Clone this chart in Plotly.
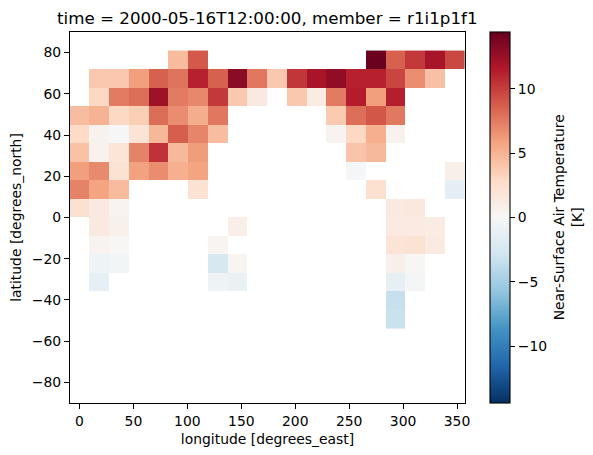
import plotly.graph_objects as go

N = None
lon = [0, 18.3, 36.6, 54.9, 73.2, 91.5, 109.8, 128.1, 146.4, 164.7,
       183, 201.3, 219.6, 237.9, 256.2, 274.5, 292.8, 311.1, 329.4, 347.7]
lat = [76.5, 67.5, 58.5, 49.5, 40.5, 31.5, 22.5, 13.5, 4.5, -4.5,
       -13.5, -22.5, -31.5, -40.5, -49.5]

r_765 = [N, N, N, N, N, 4.6, 8.9, N, N, N, N, N, N, N, N, 14.3, 8.6, 10.2, 11.9, 9.6]
r_675 = [N, 3.9, 3.9, 6, 8.6, 7.8, 11.2, 8.6, 13.1, 7.7, 3.9, 10.3, 11.9, 12.8, 11.2, 11.2, 9.7, 6.7, 4.3, N]
r_585 = [N, 3, 7.5, 8, 12.3, 7.5, 7, 10.2, 3.9, 1.4, N, 3.9, 1.2, 7.5, 11.4, 6, 11.3, N, N, N]
r_495 = [4.5, 5, 3, 3.6, 8.1, 6.8, 5.3, 7.7, N, N, N, N, N, 3.8, 8, 9, 7.6, N, N, N]
r_405 = [2.9, 0.5, -0.1, 2, 4.8, 8.7, 7.1, 4.5, N, N, N, N, N, 0.4, 3, 5.2, 0.6, N, N, N]
r_315 = [4.2, 0.6, 1.9, 7.2, 10.5, 4.7, 6.1, N, N, N, N, N, N, N, 4.1, 4.7, N, N, N, N]
r_225 = [6, 6.9, 2.1, 5.9, 6.8, 5.2, 5.8, N, N, N, N, N, N, N, -0.2, N, N, N, N, 0.8]
r_135 = [7.2, 5.8, 4.6, N, N, N, 2.2, N, N, N, N, N, N, N, N, 2.3, N, N, N, -1.4]
r_045 = [2.3, 1.4, 0.4, N, N, N, N, N, N, N, N, N, N, N, N, N, 1.4, 1.5, N, N]
r_m045 = [N, 1.4, 0.7, N, N, N, N, N, 0.9, N, N, N, N, N, N, N, 1.3, 1.3, 1.2, N]
r_m135 = [N, 0.4, 0.15, N, N, N, N, 0.35, N, N, N, N, N, N, N, N, 2, 2.1, 1.3, N]
r_m225 = [N, -0.7, -0.35, N, N, N, N, -2.4, 0.3, N, N, N, N, N, N, N, 0.8, 0.15, N, N]
r_m315 = [N, -1.3, N, N, N, N, N, -0.7, -1, N, N, N, N, N, N, N, -1.3, -0.3, N, N]
r_m405 = [N, N, N, N, N, N, N, N, N, N, N, N, N, N, N, N, -3.3, N, N, N]
r_m495 = [N, N, N, N, N, N, N, N, N, N, N, N, N, N, N, N, -3.2, N, N, N]

z = [r_765, r_675, r_585, r_495, r_405, r_315, r_225, r_135, r_045,
     r_m045, r_m135, r_m225, r_m315, r_m405, r_m495]

x_ticks = [0, 50, 100, 150, 200, 250, 300, 350]
y_ticks = [-80, -60, -40, -20, 0, 20, 40, 60, 80]
cbar_ticks = [-10, -5, 0, 5, 10]
title = "time = 2000-05-16T12:00:00, member = r1i1p1f1"
x_label = "longitude [degrees_east]"
y_label = "latitude [degrees_north]"
cbar_label = "Near-Surface Air Temperature<br>[K]"
colors = ["#053061", "#2166ac", "#4393c3", "#92c5de", "#d1e5f0", "#f7f7f7",
          "#fddbc7", "#f4a582", "#d6604d", "#b2182b", "#67001f"]

# The page body has an 8px margin, so the figure is laid out 8px up and left.
W, H = 585, 447
L, R, T, B = 61.5, 457, 23.5, 395
FONT = "DejaVu Sans"
cs = [[i / (len(colors) - 1), c] for i, c in enumerate(colors)]

fig = go.Figure(go.Heatmap(
    x=lon, y=lat, z=z, zmin=-14.4, zmax=14.4, colorscale=cs, hoverongaps=False,
    colorbar=dict(
        x=(482 - L) / (R - L), xanchor="left", xref="paper", thickness=19.5, thicknessmode="pixels",
        y=0, yanchor="bottom", yref="paper", len=1, lenmode="fraction",
        tickvals=cbar_ticks, ticks="outside", ticklen=5, tickwidth=1.1, tickcolor="black",
        tickfont=dict(family=FONT, size=13.9, color="black"),
        outlinewidth=1.1, outlinecolor="black", xpad=0, ypad=0,
    ),
))

axis = dict(showgrid=False, zeroline=False, showline=True, mirror=True, linecolor="black",
            linewidth=1.1, ticks="outside", ticklen=5, tickwidth=1.1, tickcolor="black",
            tickfont=dict(family=FONT, size=13.9, color="black"), automargin=False)

fig.update_layout(
    width=W, height=H, autosize=False,
    margin=dict(l=L, r=W - R, t=T, b=H - B, pad=0, autoexpand=False),
    paper_bgcolor="white", plot_bgcolor="white",
    title=dict(text=title, x=(L + R) / 2 / W, xref="container", xanchor="center",
               y=1 - 15.5 / H, yref="container", yanchor="bottom",
               font=dict(family=FONT, size=16.7, color="black")),
    xaxis=dict(axis, range=[-8.8, 357.4], tickvals=x_ticks,
               title=dict(text=x_label, standoff=6, font=dict(family=FONT, size=13.9, color="black"))),
    yaxis=dict(axis, range=[-90, 90], tickvals=y_ticks,
               tickformat="d",
               title=dict(text=y_label, standoff=6, font=dict(family=FONT, size=13.9, color="black"))),
    annotations=[dict(text=cbar_label, textangle=-90, showarrow=False,
                      xref="paper", yref="paper", x=(560 - L) / (R - L), y=0.5,
                      xanchor="center", yanchor="middle",
                      font=dict(family=FONT, size=13.9, color="black"))],
)
fig.write_html("out.html")
